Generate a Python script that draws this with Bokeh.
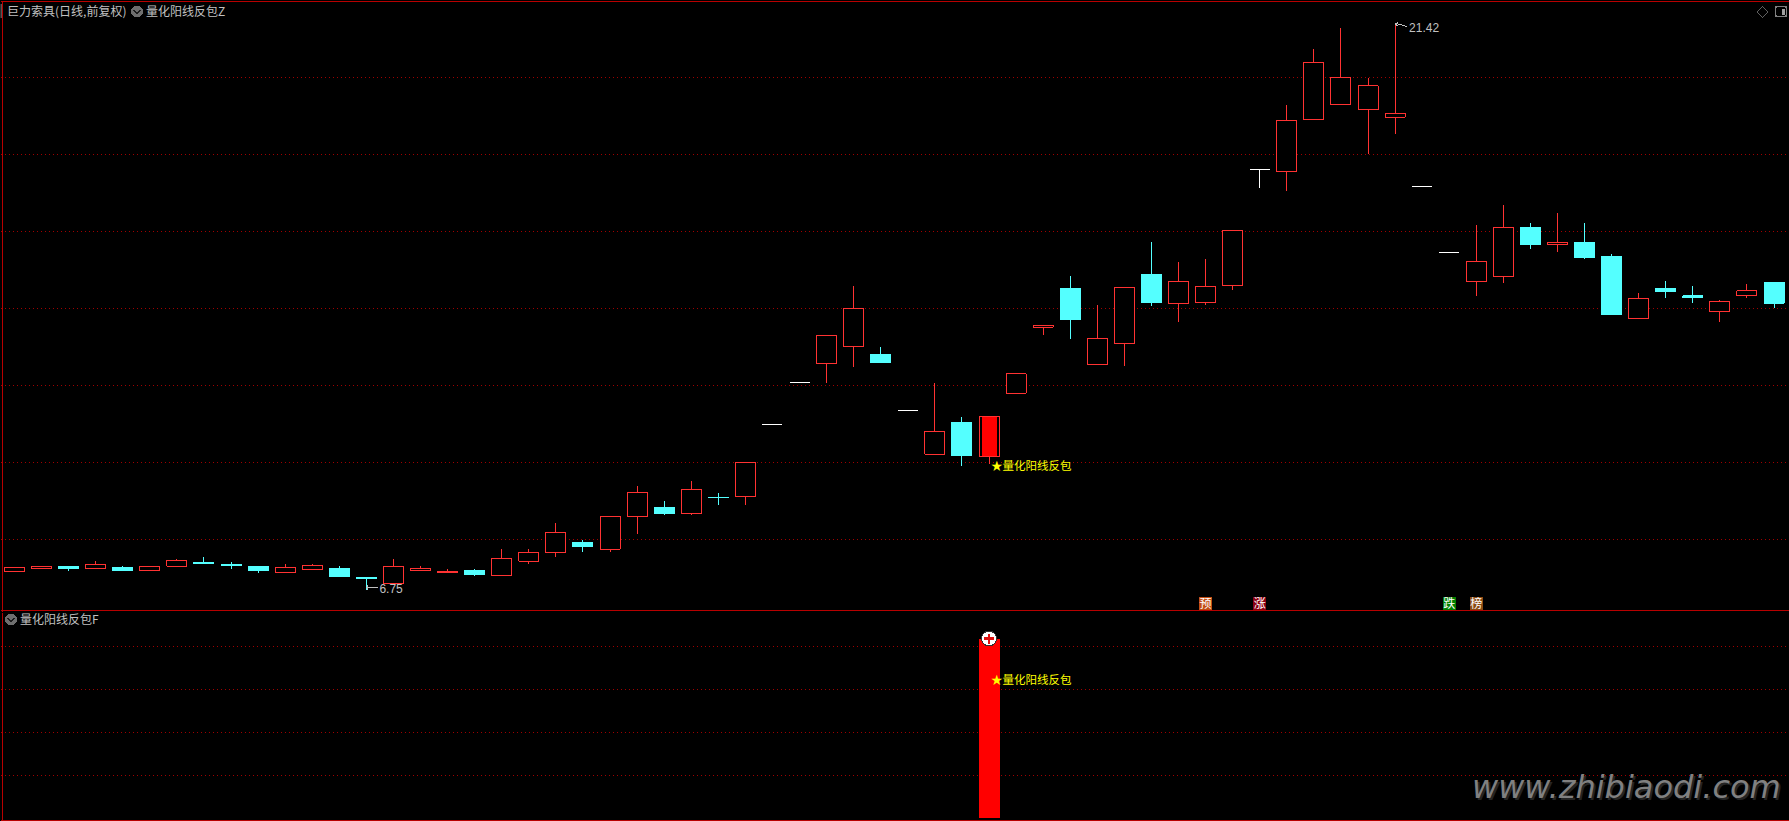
from bokeh.plotting import figure
from bokeh.layouts import column
from bokeh.models import ColumnDataSource, Span, Range1d, InlineStyleSheet
from bokeh.core.properties import value
from bokeh.embed import file_html
from bokeh.resources import INLINE

# ---- data ----
OPEN = [7.22,7.29,7.35,7.29,7.32,7.24,7.35,7.45,7.40,7.35,7.19,7.27,7.29,7.06,6.91,7.24,7.19,7.24,7.11,7.48,
        7.71,7.97,7.79,8.64,8.87,8.72,9.13,9.16,11.02,12.11,12.60,13.04,12.84,11.39,10.25,11.08,10.19,11.83,13.54,14.55,
        12.58,13.12,14.91,14.16,14.18,14.62,17.63,17.58,18.92,19.31,19.18,18.98,17.19,15.48,14.73,14.86,16.13,15.69,15.74,15.37,
        13.77,14.55,14.36,13.95,14.36,14.70]
CLOSE = [7.32,7.35,7.29,7.40,7.24,7.35,7.50,7.42,7.37,7.24,7.32,7.37,7.09,7.03,7.35,7.29,7.22,7.14,7.55,7.71,
         8.23,7.86,8.64,9.26,8.72,9.34,9.12,10.04,11.02,12.11,13.33,14.03,12.63,11.39,10.84,10.22,11.23,12.34,13.59,13.74,
         13.25,14.57,14.18,14.73,14.60,16.05,17.63,18.90,20.40,20.01,19.80,19.08,17.19,15.48,15.25,16.13,15.69,15.74,15.35,13.87,
         14.29,14.47,14.31,14.21,14.49,14.16]
HIGH = [7.32,7.37,7.35,7.50,7.35,7.35,7.55,7.58,7.45,7.37,7.42,7.42,7.35,7.06,7.53,7.35,7.27,7.27,7.81,7.81,
        8.46,8.02,8.64,9.42,9.03,9.57,9.24,10.04,11.02,12.11,13.33,14.62,13.04,11.39,12.09,11.23,11.23,12.34,13.59,14.86,
        14.11,14.57,15.74,15.22,15.32,16.05,17.63,19.29,20.76,21.28,19.99,21.42,17.19,15.48,16.18,16.72,16.23,16.49,16.23,15.43,
        14.42,14.73,14.62,14.26,14.65,14.70]
LOW = [7.22,7.29,7.24,7.29,7.22,7.22,7.35,7.42,7.27,7.19,7.19,7.27,7.09,6.75,6.91,7.24,7.19,7.11,7.11,7.42,
       7.58,7.73,7.71,8.20,8.67,8.67,8.93,8.95,11.02,12.11,12.11,12.50,12.63,11.39,10.25,9.96,9.99,11.83,13.33,13.23,
       12.58,12.55,14.08,13.69,14.11,14.52,17.14,17.06,18.92,19.31,18.02,18.54,17.19,15.48,14.34,14.70,15.56,15.48,15.32,13.85,
       13.77,14.29,14.18,13.69,14.31,14.03]
GRID_PRICES = [8.05,10.04,12.03,14.03,16.02,18.02,20.01]
GRID_F = [0.235,0.475,0.715,0.955]
SIGNAL_INDEX = [36]
SIGNAL_F = [1.0]
SIGNAL_TEXT = "★量化阳线反包"
BADGE_INDEX = [44,46,53,54]
BADGE_TEXT = ["预","涨","跌","榜"]
BADGE_COLOR = ["#c24c12","#8c0012","#008000","#8a4a12"]

# ---- scales ----
W, H1, H2 = 1789, 612, 209
PX_STEP, PX_X0 = 27.07, 14.5
PRICE_PER_ROW, ROW_LOW, PRICE_LOW = 0.0259, 589, 6.75
ROW_F0, ROW_F1 = 817, 638

def xd(px):  return (px - PX_X0) / PX_STEP
def y1(r):   return PRICE_LOW + (ROW_LOW - r) * PRICE_PER_ROW
def y2(r):   return (ROW_F0 - r) / (ROW_F0 - ROW_F1)

RED, CYAN, WHITE = "#ff3232", "#54ffff", "#ffffff"
GRID_COL, BORDER = "#a00000", "#b80000"
GRAY = "#c0c0c0"
CJK = "Noto Sans CJK SC"

CRISP = InlineStyleSheet(css=":host { shape-rendering: crispEdges; background-color: #000000; }")

def make(height, yr):
    p = figure(width=W, height=height, output_backend="svg", toolbar_location=None,
               x_range=Range1d(xd(0.5), xd(W + 0.5)), y_range=yr, background_fill_color="#000000",
               border_fill_color="#000000", outline_line_color=None,
               x_axis_type=None, y_axis_type=None, min_border=0, stylesheets=[CRISP])
    p.xgrid.visible = False
    p.ygrid.visible = False
    return p

p1 = make(H1, Range1d(y1(H1), y1(0)))
p2 = make(H2, Range1d(y2(H1 + H2), y2(H1)))

# ---- grid and frame ----
p1.hspan(y=GRID_PRICES, line_color=GRID_COL, line_width=1, line_dash="1 3")
p2.hspan(y=GRID_F, line_color=GRID_COL, line_width=1, line_dash="1 3")
p1.add_layout(Span(location=y1(1), dimension="width", line_color=BORDER, line_width=1))
p1.add_layout(Span(location=y1(610), dimension="width", line_color=BORDER, line_width=1))
p2.add_layout(Span(location=y2(820), dimension="width", line_color=BORDER, line_width=1))
for p in (p1, p2):
    p.add_layout(Span(location=xd(2), dimension="height", line_color=BORDER, line_width=1))
top_ticks = [26, 1525, 1559, 1594, 1629, 1664, 1699, 1734, 1769]
p1.segment(x0=[xd(t) for t in top_ticks], x1=[xd(t) for t in top_ticks],
           y0=[y1(0)] * len(top_ticks), y1=[y1(1)] * len(top_ticks), line_color=BORDER)
p1.quad(left=[xd(0)], right=[xd(1.5)], top=[y1(3)], bottom=[y1(17)], fill_color="#555555", line_color=None)

# ---- candles ----
idx = list(range(len(OPEN)))
cols = [RED if c > o else CYAN if c < o else WHITE for o, c in zip(OPEN, CLOSE)]
fills = ["#000000" if c > o else CYAN if c < o else WHITE for o, c in zip(OPEN, CLOSE)]
src = ColumnDataSource(dict(x=idx, open=OPEN, close=CLOSE, high=HIGH, low=LOW, col=cols, fill=fills,
                            left=[i - 10 / PX_STEP for i in idx], right=[i + 10 / PX_STEP for i in idx]))
p1.segment(x0="x", x1="x", y0="high", y1="low", line_color="col", line_width=1, source=src)
p1.quad(left="left", right="right", top="open", bottom="close", fill_color="fill", line_color="col",
        line_width=1, source=src)

# ---- signal: inner filled bar in the price pane, full bar in the lower pane ----
sx = SIGNAL_INDEX[0]
p1.quad(left=[sx - 7.5 / PX_STEP], right=[sx + 7.5 / PX_STEP], top=[max(OPEN[sx], CLOSE[sx]) - .02],
        bottom=[min(OPEN[sx], CLOSE[sx]) + .02], fill_color="#ff0000", line_color=None)
p2.vbar(x=SIGNAL_INDEX, top=SIGNAL_F, bottom=0, width=21 / PX_STEP, fill_color="#ff0000", line_color=None)
p2.scatter(x=SIGNAL_INDEX, y=SIGNAL_F, size=15, marker="circle", fill_color="#ffffff", line_color="#303030", line_width=1)
p2.scatter(x=SIGNAL_INDEX, y=SIGNAL_F, size=10, marker="cross", line_color="#e01010", line_width=2.5)

for p, yy in ((p1, y1(464.5)), (p2, y2(678.5))):
    p.text(x=SIGNAL_INDEX, y=[yy], text=[SIGNAL_TEXT], text_color="#ffff00", text_font=value(CJK),
           text_font_size="11.5px", text_baseline="middle", text_align="left", x_offset=2)

# ---- badges ----
p1.quad(left=[i - 6.5 / PX_STEP for i in BADGE_INDEX], right=[i + 6.5 / PX_STEP for i in BADGE_INDEX],
        top=[y1(596)] * 4, bottom=[y1(609)] * 4, fill_color=BADGE_COLOR, line_color=None)
p1.text(x=BADGE_INDEX, y=[y1(602)] * 4, text=BADGE_TEXT, text_color="#ffffff", text_font=value(CJK),
        text_font_size="12px", text_baseline="middle", text_align="center")

# ---- high / low marks ----
imax, imin = HIGH.index(max(HIGH)), LOW.index(min(LOW))
num = value("Liberation Sans")
p1.text(x=[imin], y=[min(LOW)], text=[f"{min(LOW):.2f}"], text_color=GRAY, text_font=num, text_font_size="12px",
        text_baseline="middle", text_align="left", x_offset=13, y_offset=-1)
p1.text(x=[imax], y=[max(HIGH)], text=[f"{max(HIGH):.2f}"], text_color=GRAY, text_font=num, text_font_size="12px",
        text_baseline="middle", text_align="left", x_offset=14, y_offset=4)
p1.line(x=[imin, xd(378)], y=[y1(587), y1(587)], line_color=GRAY, line_width=1)
p1.line(x=[imin + .06, imin, imin + .06], y=[y1(585), y1(587), y1(589)], line_color=GRAY, line_width=1)
p1.line(x=[imax, xd(1400), xd(1407)], y=[y1(23), y1(24), y1(26)], line_color=GRAY, line_width=1)
p1.line(x=[xd(1398.5), imax, xd(1398.5)], y=[y1(22), y1(23.5), y1(26)], line_color=GRAY, line_width=1)

# ---- header texts and icons ----
def label(p, yf, x, row, text, color=GRAY, size="12px", font=CJK, style="normal"):
    p.text(x=[xd(x)], y=[yf(row)], text=[text], text_color=color, text_font=value(font), text_font_size=size,
           text_baseline="middle", text_align="left", text_font_style=style)

label(p1, y1, 7, 10, "巨力索具(日线,前复权)")
label(p1, y1, 146, 10, "量化阳线反包Z")
label(p2, y2, 20, 618, "量化阳线反包F")

def chevron(p, yf, cx, cy):
    p.scatter(x=[xd(cx)], y=[yf(cy)], size=12, marker="circle", fill_color="#6e6e6e", line_color=None)
    p.line(x=[xd(cx - 3.5), xd(cx), xd(cx + 3.5)], y=[yf(cy - 1.5), yf(cy + 2), yf(cy - 1.5)],
           line_color="#1c1c1c", line_width=1.5)

chevron(p1, y1, 137, 11)
chevron(p2, y2, 11, 619)

p1.line(x=[xd(1757), xd(1762.5), xd(1768), xd(1762.5), xd(1757)], y=[y1(11.5), y1(6), y1(11.5), y1(17), y1(11.5)],
        line_color="#606060", line_width=1)
p1.quad(left=[xd(1775.5)], right=[xd(1786.5)], top=[y1(6)], bottom=[y1(16)], fill_color=None,
        line_color="#808080", line_width=1.5, border_radius=2)
p1.quad(left=[xd(1782)], right=[xd(1785)], top=[y1(8)], bottom=[y1(14)], fill_color="#a0a0a0", line_color=None)

# ---- watermark ----
WM = "www.zhibiaodi.com"
label(p2, y2, 1474, 788, WM, color="#242424", size="32px", font="DejaVu Sans", style="italic")
label(p2, y2, 1472, 786, WM, color="#808080", size="32px", font="DejaVu Sans", style="italic")

page = column(p1, p2, spacing=0, width=W, height=H1 + H2, stylesheets=[CRISP],
              styles={"position": "fixed", "left": "0px", "top": "0px", "background-color": "#000000"})
open("out.html", "w").write(file_html(page, INLINE))
